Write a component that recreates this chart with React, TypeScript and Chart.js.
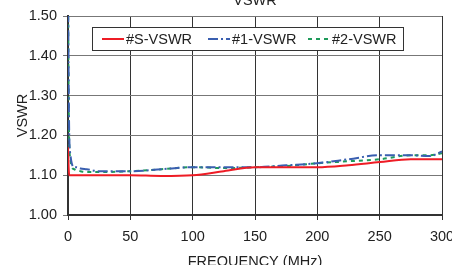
import React, { useEffect, useRef } from "react";
import { Chart, registerables } from "chart.js";
Chart.register(...registerables);

const freq = [0, 0.5, 1, 2, 3, 5, 7, 10, 15, 25, 50, 75, 100, 125, 150, 175, 200, 225, 250, 275, 290, 300];
const sVswr = [1.17, 1.12, 1.10, 1.10, 1.10, 1.10, 1.10, 1.10, 1.10, 1.10, 1.10, 1.098, 1.10, 1.11, 1.12, 1.12, 1.12, 1.125, 1.133, 1.14, 1.14, 1.14];
const vswr1 = [1.6, 1.35, 1.2, 1.15, 1.13, 1.12, 1.12, 1.117, 1.115, 1.11, 1.11, 1.115, 1.12, 1.12, 1.12, 1.125, 1.13, 1.14, 1.15, 1.15, 1.148, 1.16];
const vswr2 = [1.6, 1.3, 1.18, 1.14, 1.12, 1.115, 1.112, 1.11, 1.108, 1.108, 1.11, 1.115, 1.12, 1.118, 1.12, 1.123, 1.13, 1.135, 1.14, 1.15, 1.15, 1.155];
const seriesNames = ["#S-VSWR", "#1-VSWR", "#2-VSWR"];
const chartTitle = "VSWR";
const xTitle = "FREQUENCY (MHz)";
const yTitle = "VSWR";

const FONT = "'Liberation Sans', Arial, sans-serif";
const FS = 14.5;

export default function App() {
  const ref = useRef<HTMLCanvasElement>(null);
  useEffect(() => {
    if (!ref.current) return;
    const colors = ["#ee1c25", "#3a5fb0", "#1e9a5a"];
    const dashes = [[], [10, 3, 2, 3], [4, 4]];
    const sets = [sVswr, vswr1, vswr2];
    const overlay = {
      id: "overlay",
      afterDraw(chart: any) {
        const ctx = chart.ctx;
        const ca = chart.chartArea;
        ctx.save();
        ctx.fillStyle = "#222";
        ctx.font = `${FS}px ${FONT}`;
        ctx.textAlign = "center";
        ctx.textBaseline = "alphabetic";
        ctx.fillText(chartTitle, (ca.left + ca.right) / 2, 5);
        ctx.fillText(xTitle, (ca.left + ca.right) / 2, 266);
        ctx.save();
        ctx.translate(27, (ca.top + ca.bottom) / 2);
        ctx.rotate(-Math.PI / 2);
        ctx.fillText(yTitle, 0, 0);
        ctx.restore();
        // legend
        const lx = ca.left + 24, ly = ca.top + 11, lw = 311, lh = 23;
        ctx.fillStyle = "#fff";
        ctx.fillRect(lx, ly, lw, lh);
        ctx.strokeStyle = "#333";
        ctx.lineWidth = 1;
        ctx.strokeRect(lx + 0.5, ly + 0.5, lw, lh);
        const items = [lx + 10, lx + 116, lx + 216];
        ctx.textAlign = "left";
        ctx.textBaseline = "middle";
        for (let i = 0; i < 3; i++) {
          const x0 = items[i];
          const cy = ly + lh / 2 + 0.5;
          ctx.strokeStyle = colors[i];
          ctx.lineWidth = 2;
          ctx.setLineDash(dashes[i]);
          ctx.beginPath();
          ctx.moveTo(x0, cy);
          ctx.lineTo(x0 + 22, cy);
          ctx.stroke();
          ctx.setLineDash([]);
          ctx.fillStyle = "#222";
          ctx.fillText(seriesNames[i], x0 + 24, cy + 1);
        }
        ctx.restore();
      },
    };
    const chart = new Chart(ref.current, {
      type: "line",
      data: {
        datasets: sets.map((d, i) => ({
          label: seriesNames[i],
          data: freq.map((f, j) => ({ x: f, y: d[j] })),
          borderColor: colors[i],
          borderWidth: 2,
          borderDash: dashes[i],
          pointRadius: 0,
          fill: false,
          cubicInterpolationMode: "monotone" as const,
        })),
      },
      options: {
        animation: false,
        responsive: false,
        layout: { padding: { top: 16, right: 10, left: 0, bottom: 0 } },
        plugins: { legend: { display: false }, title: { display: false }, tooltip: { enabled: false } },
        scales: {
          x: {
            type: "linear",
            min: 0,
            max: 300,
            ticks: { stepSize: 50, color: "#222", font: { family: FONT, size: FS }, padding: 8, maxRotation: 0 },
            grid: { color: "#333", lineWidth: 1, tickLength: 5 },
            border: { color: "#333", width: 2 },
            afterFit: (s: any) => { s.height = 50; s.paddingLeft = 0; s.paddingRight = 0; },
          },
          y: {
            min: 1.0,
            max: 1.5,
            ticks: { stepSize: 0.1, color: "#222", font: { family: FONT, size: FS }, padding: 6, callback: (v: any) => Number(v).toFixed(2) },
            grid: { color: "#777", lineWidth: 1, tickLength: 5 },
            border: { color: "#333", width: 2 },
            afterFit: (s: any) => { s.width = 68; s.paddingTop = 0; s.paddingBottom = 0; },
          },
        },
      },
      plugins: [overlay],
    });
    return () => chart.destroy();
  }, []);
  return (
    <div style={{ position: "absolute", left: 0, top: 0, width: 452, height: 265, overflow: "hidden", background: "#fff" }}>
      <canvas ref={ref} width={452} height={265} style={{ display: "block", width: 452, height: 265 }} />
    </div>
  );
}
